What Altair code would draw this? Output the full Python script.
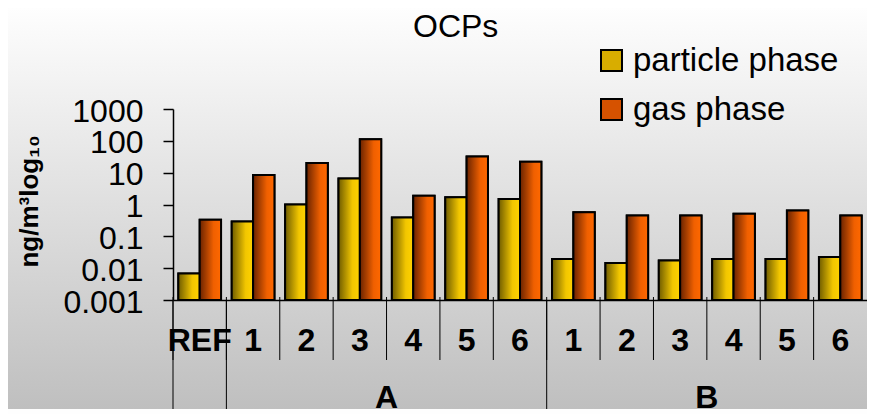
import altair as alt
import pandas as pd

# ---- data ----
ids = ["REF", "A1", "A2", "A3", "A4", "A5", "A6", "B1", "B2", "B3", "B4", "B5", "B6"]
groups = ["REF", "A", "A", "A", "A", "A", "A", "B", "B", "B", "B", "B", "B"]
tick_labels = ["REF", "1", "2", "3", "4", "5", "6", "1", "2", "3", "4", "5", "6"]
particle = [0.0068, 0.29, 1.0, 6.5, 0.39, 1.7, 1.5, 0.0195, 0.0146, 0.0173, 0.0195, 0.0195, 0.0225]
gas = [0.33, 8.5, 20, 113, 1.9, 32, 22, 0.57, 0.45, 0.45, 0.51, 0.65, 0.45]
phases = ["particle phase", "gas phase"]
group_names = ["A", "B"]
y_ticks = [0.001, 0.01, 0.1, 1, 10, 100, 1000]
y_min, y_max = 0.001, 1000

FONT = "Liberation Sans"
W, H = 694, 191

rows = []
for i, cid in enumerate(ids):
    rows.append({"id": cid, "phase": phases[0], "value": particle[i]})
    rows.append({"id": cid, "phase": phases[1], "value": gas[i]})
bars = pd.DataFrame(rows)

cats = pd.DataFrame({"id": ids, "group": groups, "label": tick_labels})
cats["start"] = [i == 0 or groups[i] != groups[i - 1] for i in range(len(ids))]

grp_rows = []
for g in group_names:
    members = [c for c, gg in zip(ids, groups) if gg == g]
    grp_rows.append({"id": members[len(members) // 2], "label": g})
grp = pd.DataFrame(grp_rows)

label_map = "{" + ",".join(f"'{a}':'{b}'" for a, b in zip(ids, tick_labels)) + "}"

xscale = alt.Scale(domain=ids, paddingInner=0, paddingOuter=0)
xoff = alt.XOffset("phase:N", scale=alt.Scale(domain=phases, paddingInner=0, paddingOuter=0.25))
yenc = alt.Y(
    "value:Q",
    scale=alt.Scale(type="log", domain=[y_min, y_max]),
    axis=alt.Axis(
        values=y_ticks, format="~g", grid=False, domainColor="black", domainWidth=1.5,
        tickColor="black", tickSize=10, tickWidth=1.5, labelFont=FONT, labelFontSize=32,
        labelColor="black", labelPadding=20, labelBaseline="middle", labelOverlap=False,
        labelBound=False, labelFlush=False, labelOffset=2,
        title="ng/m³log₁₀", titleFont=FONT, titleFontSize=26, titleFontWeight="bold",
        titleColor="black", titleX=-131, titleY=92, titleAngle=-90, titleBaseline="bottom",
        titleAlign="center", zindex=1,
    ),
)
y2enc = alt.datum(y_min)
xenc = alt.X(
    "id:N", scale=xscale,
    axis=alt.Axis(
        title=None, ticks=False, tickSize=0, labelExpr=f"{label_map}[datum.value]",
        labelFont=FONT, labelFontSize=32, labelFontWeight="bold", labelColor="black",
        labelBaseline="middle", labelPadding=40, labelAngle=0, labelOverlap=False,
        labelBound=False, labelFlush=False, labelLimit=300,
        domainColor="black", domainWidth=1.5, zindex=1,
    ),
)


def grad_h(c0, c1, c2):
    return alt.Gradient(
        gradient="linear", x1=0, x2=1, y1=0, y2=0,
        stops=[alt.GradientStop(color=c0, offset=0), alt.GradientStop(color=c1, offset=0.65),
               alt.GradientStop(color=c2, offset=1)],
    )


yellow = grad_h("#6f5c00", "#f2c600", "#ffd200")
orange = grad_h("#6a2300", "#f06000", "#ff6800")
bg_grad = alt.Gradient(
    gradient="linear", x1=0, x2=0, y1=0, y2=1,
    stops=[alt.GradientStop(color="#fefefe", offset=0), alt.GradientStop(color="#bfbfbf", offset=1)],
)

background = alt.Chart(pd.DataFrame({"k": [0]})).mark_rect(fill=bg_grad).encode(
    x=alt.value(-165), x2=alt.value(W), y=alt.value(-101), y2=alt.value(300)
)

base = alt.Chart(bars)
solid = base.mark_bar(stroke="black", strokeWidth=2).encode(
    x=xenc, xOffset=xoff, y=yenc, y2=y2enc,
    color=alt.Color(
        "phase:N", scale=alt.Scale(domain=phases, range=["#d8ad00", "#d65200"]),
        legend=alt.Legend(
            title=None, orient="none", legendX=422, legendY=-65, symbolType="square",
            symbolSize=441, symbolStrokeColor="black", symbolStrokeWidth=2,
            labelFont=FONT, labelFontSize=33, labelColor="black", labelOffset=5,
            rowPadding=15, padding=0, labelLimit=400,
        ),
    ),
)
bar_p = base.transform_filter(alt.datum.phase == phases[0]).mark_bar(
    fill=yellow, stroke="black", strokeWidth=2
).encode(x=xenc, xOffset=xoff, y=yenc, y2=y2enc)
bar_g = base.transform_filter(alt.datum.phase == phases[1]).mark_bar(
    fill=orange, stroke="black", strokeWidth=2
).encode(x=xenc, xOffset=xoff, y=yenc, y2=y2enc)

minor_rules = alt.Chart(cats).mark_rule(color="black", strokeWidth=1).encode(
    x=alt.X("id:N", scale=xscale, bandPosition=0), y=alt.value(H - 3), y2=alt.value(H + 60)
)
major_rules = alt.Chart(cats).transform_filter(alt.datum.start).mark_rule(
    color="black", strokeWidth=1
).encode(x=alt.X("id:N", scale=xscale, bandPosition=0), y=alt.value(H), y2=alt.value(300))

group_text = alt.Chart(grp).mark_text(
    font=FONT, fontSize=32, fontWeight="bold", color="black", baseline="middle", align="center"
).encode(x=alt.X("id:N", scale=xscale, bandPosition=0), y=alt.value(289), text="label:N")

chart = alt.layer(
    background, solid, bar_p, bar_g, minor_rules, major_rules, group_text
).properties(
    width=W, height=H, padding=0,
    title=alt.TitleParams(
        "OCPs", font=FONT, fontSize=32, fontWeight="normal", color="black",
        anchor="start", frame="group", dx=240, offset=-61, baseline="alphabetic",
    ),
).configure_view(stroke=None).configure(background="#fefefe")

chart.save("out.html", embed_options={"renderer": "svg", "actions": False})
